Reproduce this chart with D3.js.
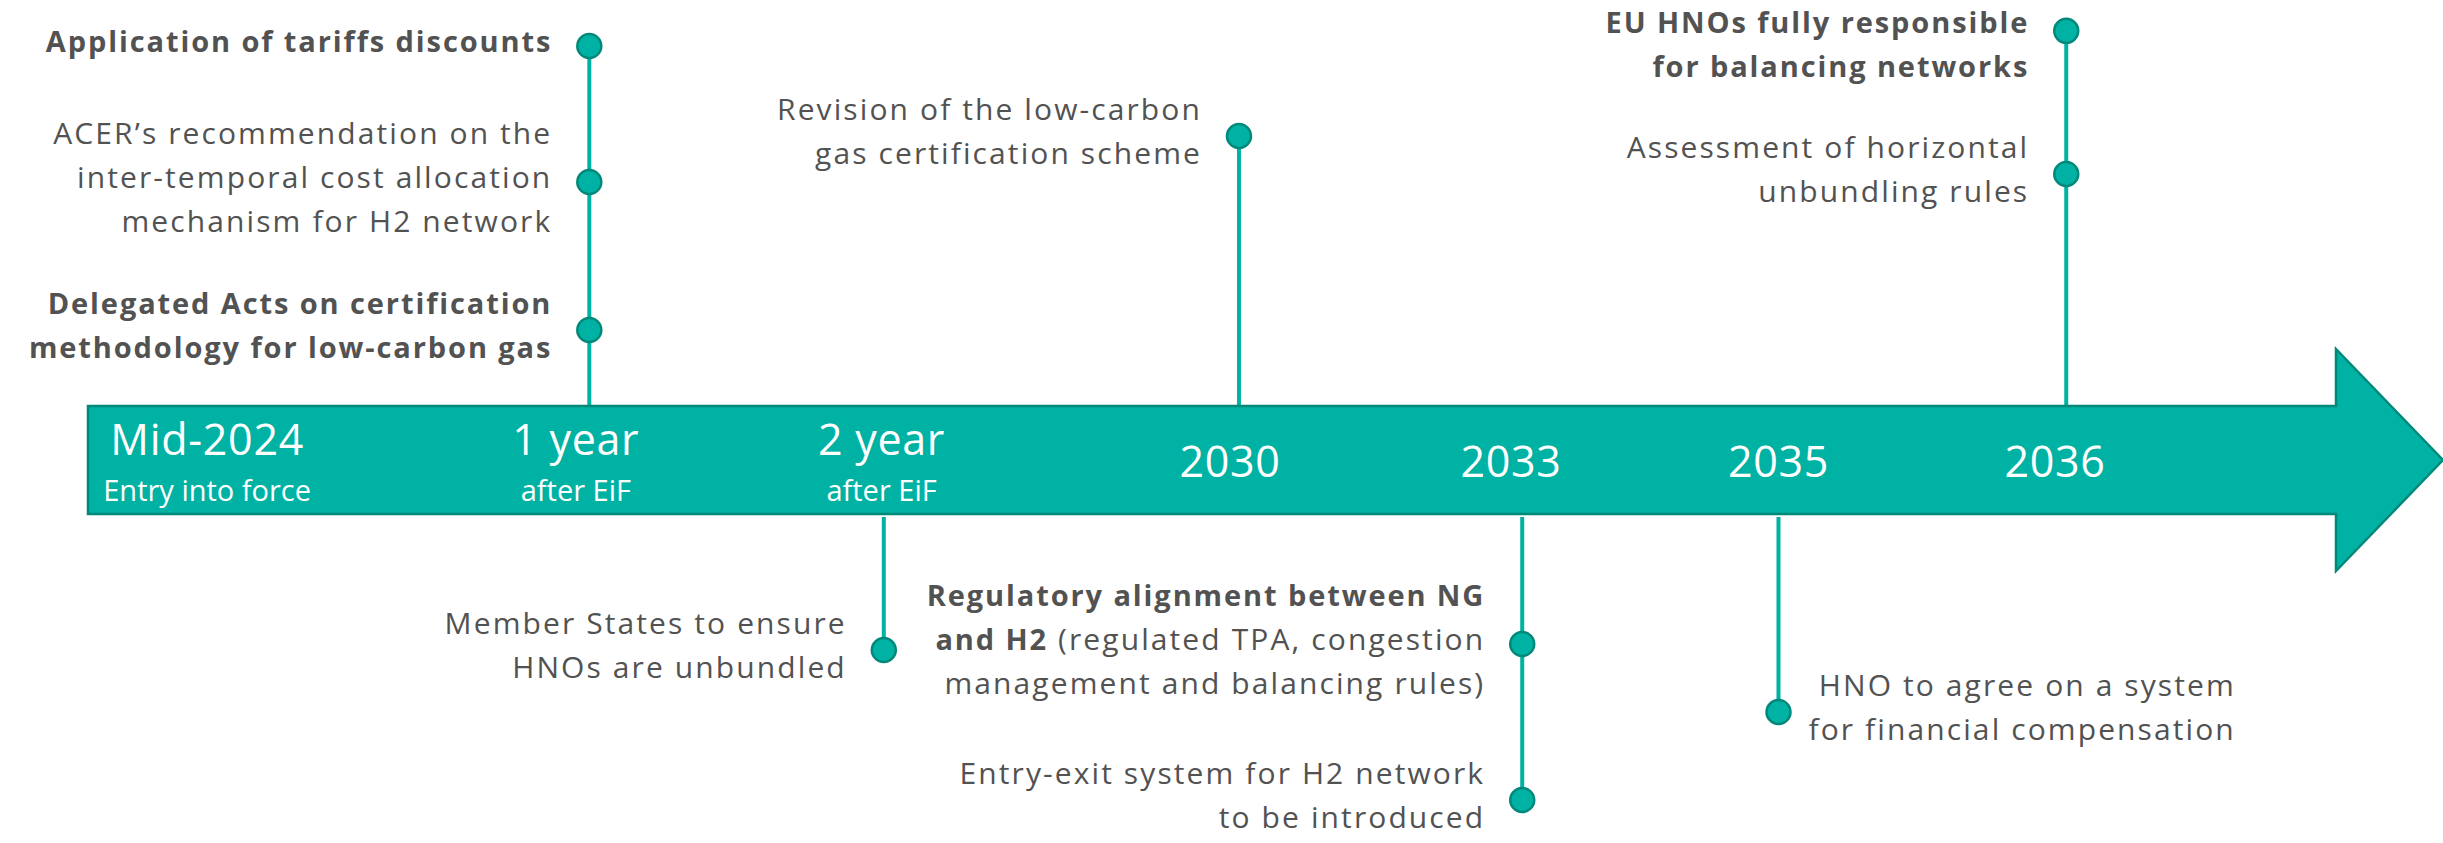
<!DOCTYPE html>
<html>
<head>
<meta charset="utf-8">
<script src="https://cdn.jsdelivr.net/npm/d3@7"></script>
<style>
  body { margin: 0; background: #fff; }
  svg { display: block; font-family: 'Open Sans', sans-serif; }
</style>
</head>
<body>
<svg id="timeline" width="2443" height="843"></svg>
<script>
// milestones printed on the arrow; slot = place along the arrow body (0-100)
var milestones = ['Mid-2024', '1 year', '2 year', '2030', '2033', '2035', '2036'];
var milestoneNotes = ['Entry into force', 'after EiF', 'after EiF', '', '', '', ''];
var milestoneSlots = [5.3, 21.7, 35.3, 50.8, 63.3, 75.2, 87.5];

// stems that join the events to the arrow
var stemMilestones = ['1 year', '2 year', '2030', '2033', '2035', '2036'];
var stemSlots = [22.3, 35.4, 51.2, 63.8, 75.2, 88.0];
var stemSides = ['above', 'below', 'above', 'below', 'below', 'above'];

// events: stem, distance from the arrow (lane 0-10), text lines (**bold**)
var eventStems = ['1 year', '1 year', '1 year', '2030', '2036', '2036', '2 year', '2033', '2033', '2035'];
var eventLanes = [9.0, 5.6, 1.9, 6.75, 9.38, 5.8, 3.4, 3.25, 7.15, 4.95];
var eventTextSide = ['left', 'left', 'left', 'left', 'left', 'left', 'left', 'left', 'left', 'right'];
var eventLines = [
    ['**Application of tariffs discounts**'],
    ['ACER\u2019s recommendation on the', 'inter-temporal cost allocation', 'mechanism for H2 network'],
    ['**Delegated Acts on certification**', '**methodology for low-carbon gas**'],
    ['Revision of the low-carbon', 'gas certification scheme'],
    ['**EU HNOs fully responsible**', '**for balancing networks**'],
    ['Assessment of horizontal', 'unbundling rules'],
    ['Member States to ensure', 'HNOs are unbundled'],
    ['**Regulatory alignment between NG**', '**and H2** (regulated TPA, congestion', 'management and balancing rules)'],
    ['Entry-exit system for H2 network', 'to be introduced'],
    ['HNO to agree on a system', 'for financial compensation']
];

var svg = d3.select('#timeline');
var width = +svg.attr('width');
var height = +svg.attr('height');

var teal = '#00b2a3';
var tealDark = '#00897b';
var textColor = '#525252';

var barTop = 406;
var barBottom = 514;
var bodyLeft = 88;
var bodyRight = 2336;
var headTop = 349;
var headBottom = 571;
var lineHeight = 44;
var topMargin = 27; // first text line never sits higher than this

var x = d3.scaleLinear().domain([0, 100]).range([bodyLeft, bodyRight]);
var laneUp = d3.scaleLinear().domain([0, 10]).range([barTop, barTop - 400]);
var laneDown = d3.scaleLinear().domain([0, 10]).range([barBottom, barBottom + 400]);

var stems = stemMilestones.map((m, i) => ({ id: m, x: x(stemSlots[i]), side: stemSides[i] }));
var stemById = {};
stems.forEach(s => { stemById[s.id] = s; });

var events = eventStems.map((s, i) => {
    var stem = stemById[s];
    var y = stem.side === 'above' ? laneUp(eventLanes[i]) : laneDown(eventLanes[i]);
    var n = eventLines[i].length;
    return {
        stem: stem,
        x: stem.x,
        y: y,
        textY: Math.max(y, topMargin + (n - 1) / 2 * lineHeight),
        side: eventTextSide[i],
        lines: eventLines[i]
    };
});

// stems first so the arrow covers their ends
svg.append('g').selectAll('line')
    .data(stems)
    .enter().append('line')
    .attr('x1', d => d.x)
    .attr('x2', d => d.x)
    .attr('y1', d => {
        var ys = events.filter(e => e.stem === d).map(e => e.y);
        return d.side === 'above' ? d3.min(ys) : barBottom + 3;
    })
    .attr('y2', d => {
        var ys = events.filter(e => e.stem === d).map(e => e.y);
        return d.side === 'above' ? barTop : d3.max(ys);
    })
    .style('stroke', teal)
    .style('stroke-width', 4);

// the arrow
var arrow = d3.path();
arrow.moveTo(bodyLeft, barTop);
arrow.lineTo(bodyRight, barTop);
arrow.lineTo(bodyRight, headTop);
arrow.lineTo(width, (barTop + barBottom) / 2);
arrow.lineTo(bodyRight, headBottom);
arrow.lineTo(bodyRight, barBottom);
arrow.lineTo(bodyLeft, barBottom);
arrow.closePath();

svg.append('path')
    .attr('d', arrow.toString())
    .style('fill', teal)
    .style('stroke', tealDark)
    .style('stroke-width', 2.5)
    .style('stroke-linejoin', 'miter');

// milestone labels
var mid = (barTop + barBottom) / 2;
var mLabel = svg.append('g').selectAll('g')
    .data(milestones.map((m, i) => ({ name: m, note: milestoneNotes[i], x: x(milestoneSlots[i]) })))
    .enter().append('g')
    .attr('transform', d => `translate(${d.x},0)`)
    .style('fill', '#fff')
    .attr('text-anchor', 'middle');

mLabel.append('text')
    .attr('y', d => d.note ? mid - 20 : mid + 2)
    .attr('dy', '0.35em')
    .style('font-size', '43px')
    .style('letter-spacing', '0.7px')
    .text(d => d.name);

mLabel.filter(d => d.note).append('text')
    .attr('y', mid + 31)
    .attr('dy', '0.35em')
    .style('font-size', '29px')
    .text(d => d.note);

// event dots and texts
var ev = svg.append('g').selectAll('g')
    .data(events)
    .enter().append('g');

var txt = ev.append('text')
    .attr('text-anchor', 'end')
    .style('fill', textColor);

txt.selectAll('tspan.line')
    .data(d => d.lines.map((l, i) => ({ text: l, i: i, n: d.lines.length, ev: d })))
    .enter().append('tspan')
    .attr('class', 'line')
    .attr('y', d => d.ev.textY + (d.i - (d.n - 1) / 2) * lineHeight)
    .attr('dy', '0.35em')
    .each(function (d) {
        var parts = d.text.split(/(\*\*[^*]+\*\*)/).filter(p => p.length);
        var first = true;
        parts.forEach(p => {
            var bold = p.startsWith('**');
            var t = d3.select(this).append('tspan')
                .style('font-weight', bold ? 700 : 400)
                .style('font-size', bold ? '29px' : '30px')
                .style('letter-spacing', bold ? '1.9px' : '2.1px')
                .text(bold ? p.slice(2, -2) : p);
            if (first) {
                t.attr('x', 0);
                first = false;
            }
        });
    });

// place each text block beside its dot
txt.each(function (d) {
    var node = d3.select(this);
    var gap = 37;
    var tx;
    if (d.side === 'left') {
        tx = d.x - gap;
    } else {
        var maxW = 0;
        node.selectAll('tspan.line').each(function () {
            var w = this.getComputedTextLength();
            if (w > maxW) { maxW = w; }
        });
        tx = d.x + 30 + maxW;
    }
    node.attr('transform', `translate(${tx},0)`);
});

ev.append('circle')
    .attr('cx', d => d.x)
    .attr('cy', d => d.y)
    .attr('r', 12)
    .style('fill', teal)
    .style('stroke', tealDark)
    .style('stroke-width', 2.5);
</script>
</body>
</html>
